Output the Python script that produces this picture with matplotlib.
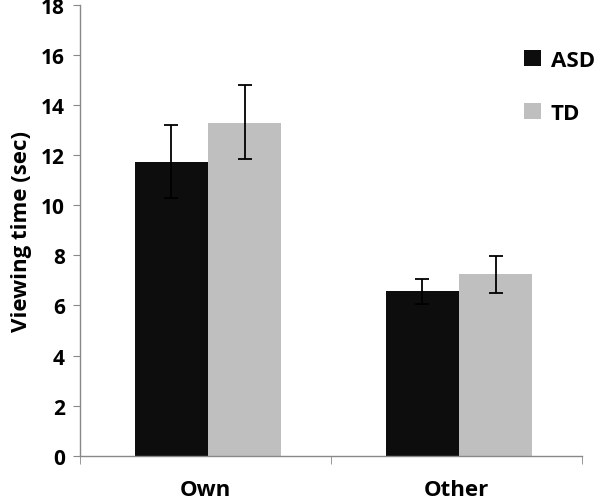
import matplotlib
matplotlib.use("Agg")
import matplotlib.pyplot as plt
import numpy as np

categories = ["Own", "Other"]
groups = ["ASD", "TD"]
asd_values = [11.73, 6.56]
td_values = [13.30, 7.24]
asd_err_low = [10.31, 6.07]
asd_err_high = [13.20, 7.06]
td_err_low = [11.85, 6.48]
td_err_high = [14.82, 7.99]
y_ticks = [0, 2, 4, 6, 8, 10, 12, 14, 16, 18]

plt.rcParams['font.family'] = ['Open Sans', 'DejaVu Sans']
plt.rcParams['font.weight'] = 'bold'

fig = plt.figure(figsize=(6.0, 5.02), dpi=100)
ax = fig.add_axes([0.1333, 0.0902, 0.8367, 0.8978])

x = np.arange(len(categories))
w = 0.292
colors = ["#0d0d0d", "#bfbfbf"]
vals = [asd_values, td_values]
lows = [asd_err_low, td_err_low]
highs = [asd_err_high, td_err_high]
offs = [-w / 2 + 0.01, w / 2 + 0.01]
for g, v, lo, hi, c, o in zip(groups, vals, lows, highs, colors, offs):
    v = np.array(v)
    yerr = np.vstack([v - np.array(lo), np.array(hi) - v])
    ax.bar(x + o, v, width=w, color=c, label=g, zorder=2)
    ax.errorbar(x + o, v, yerr=yerr, fmt='none', ecolor='black', elinewidth=1.3,
                capsize=5, capthick=1.3, zorder=3)

ax.set_xlim(-0.5, 1.5)
ax.set_ylim(0, 18)
ax.set_yticks(y_ticks)
ax.set_yticklabels([str(t) for t in y_ticks], fontsize=15, fontweight='bold')
ax.set_xticks(x)
ax.set_xticklabels(categories, fontsize=16, fontweight='bold')
ax.set_xticks([-0.5, 0.5, 1.5], minor=True)
ax.tick_params(axis='x', which='major', length=0, pad=17)
ax.tick_params(axis='x', which='minor', length=6, color='#888888', direction='out')
ax.tick_params(axis='y', length=5, color='#888888', pad=6)
ax.set_ylabel("Viewing time (sec)", fontsize=16, fontweight='bold', labelpad=6)

for s in ['top', 'right']:
    ax.spines[s].set_visible(False)
for s in ['left', 'bottom']:
    ax.spines[s].set_color('#888888')
    ax.spines[s].set_linewidth(1)

leg = ax.legend(loc='upper left', bbox_to_anchor=(0.845, 0.945), frameon=False,
                prop={'weight': 'bold', 'size': 16},
                handlelength=0.75, handleheight=0.75, handletextpad=0.45, labelspacing=1.45)

fig.savefig("out.png", dpi=100)
